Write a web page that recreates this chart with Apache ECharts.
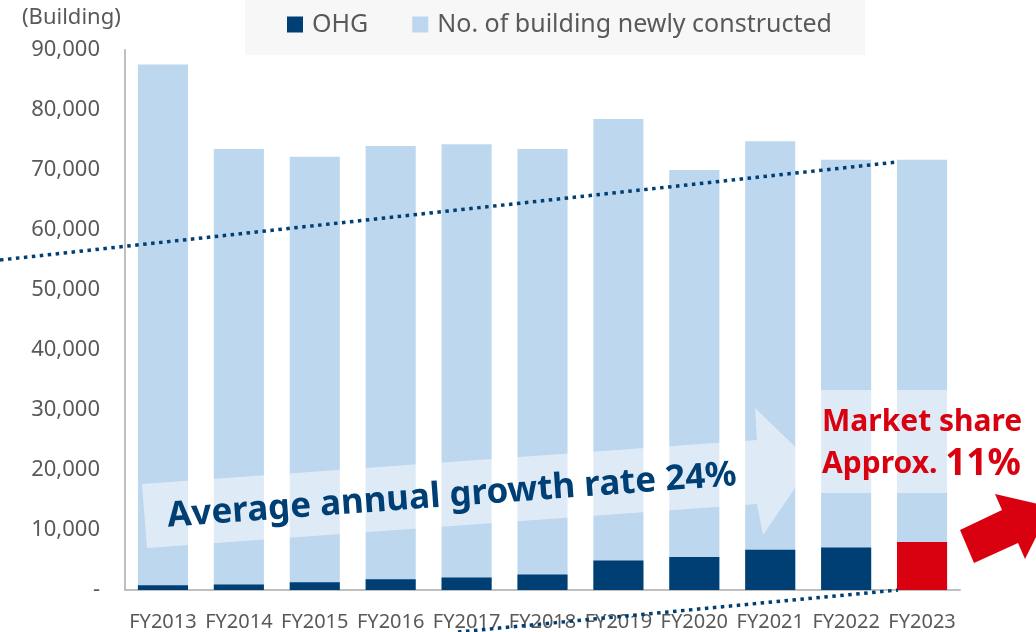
<!DOCTYPE html>
<html>
<head>
<meta charset="utf-8">
<script src="https://cdn.jsdelivr.net/npm/echarts@6/dist/echarts.min.js"></script>
<style>
  html, body { margin: 0; padding: 0; background: #fff; }
  #chart { width: 1036px; height: 632px; }
</style>
</head>
<body>
<div id="chart"></div>
<script>
    // values
    const years = ['FY2013', 'FY2014', 'FY2015', 'FY2016', 'FY2017', 'FY2018', 'FY2019', 'FY2020', 'FY2021', 'FY2022', 'FY2023'];
    const newlyBuilt = [87600, 73500, 72200, 74000, 74300, 73500, 78500, 70000, 74800, 71700, 71700];
    const ohg = [800, 900, 1300, 1800, 2100, 2600, 4900, 5500, 6700, 7100, 8000];
    const yTicks = [0, 10000, 20000, 30000, 40000, 50000, 60000, 70000, 80000, 90000];

    const dark = '#003F74';
    const light = '#BDD7EE';
    const red = '#D9000F';
    const grey = '#595959';
    const font = '"Noto Sans", sans-serif';

    let ohgData = ohg.map((v, i) => i === ohg.length - 1 ? {value: v, itemStyle: {color: red}} : v);

    let chart = echarts.init(document.getElementById('chart'));
    chart.setOption({
        animation: false,
        textStyle: {fontFamily: font},
        grid: {left: 125, right: 76, top: 50, bottom: 42, containLabel: false},
        legend: {
            data: ['OHG', 'No. of building newly constructed'],
            left: 245, top: 0,
            backgroundColor: '#F7F7F7',
            padding: [12, 33, 18, 42],
            itemWidth: 16, itemHeight: 16, itemGap: 44,
            icon: 'rect',
            textStyle: {fontSize: 25, color: grey, fontFamily: font, padding: [0, 0, 0, 4], lineHeight: 16}
        },
        xAxis: {
            type: 'category',
            data: years,
            axisLine: {lineStyle: {color: '#BFBFBF', width: 2}},
            axisTick: {show: false},
            axisLabel: {interval: 0, fontSize: 20, color: grey, margin: 22, fontFamily: font}
        },
        yAxis: {
            type: 'value',
            min: yTicks[0], max: yTicks[yTicks.length - 1], interval: 10000,
            axisLine: {show: true, lineStyle: {color: '#BFBFBF', width: 2}},
            axisTick: {show: false},
            splitLine: {show: false},
            axisLabel: {
                fontSize: 22, color: grey, margin: 25, fontFamily: font,
                formatter: v => v === 0 ? '-' : v.toLocaleString('en-US')
            }
        },
        series: [
            {
                name: 'No. of building newly constructed',
                type: 'bar',
                data: newlyBuilt,
                barWidth: '66%',
                itemStyle: {color: light}
            },
            {
                name: 'OHG',
                type: 'bar',
                data: ohgData,
                barWidth: '66%',
                barGap: '-100%',
                itemStyle: {color: dark}
            }
        ],
        graphic: [
            {type: 'text', left: 22, top: 7, style: {text: '(Building)', fontSize: 22, fill: grey, fontFamily: font}},
            // trend lines
            {type: 'line', z: 100, shape: {x1: 0, y1: 260, x2: 897, y2: 162},
                style: {stroke: dark, lineWidth: 3.5, lineDash: [3.5, 4.5]}},
            {type: 'line', z: 100, shape: {x1: 458, y1: 632, x2: 898, y2: 590},
                style: {stroke: dark, lineWidth: 3.5, lineDash: [3.5, 4.5]}},
            // growth arrow
            {type: 'polygon', z: 90, shape: {points: [[142, 484], [757, 440], [755, 408], [812, 463], [763, 535], [757, 504], [147, 548]]},
                style: {fill: 'rgba(255,255,255,0.5)'}},
            {type: 'text', z: 95, x: 452, y: 496, rotation: 0.073,
                style: {text: 'Average annual growth rate 24%', fontSize: 35, fontWeight: 'bold', fill: dark,
                    fontFamily: font, align: 'center', verticalAlign: 'middle'}},
            // market share box
            {type: 'rect', z: 90, shape: {x: 800, y: 390, width: 230, height: 103},
                style: {fill: 'rgba(255,255,255,0.5)'}},
            {type: 'text', z: 95, x: 822, y: 443,
                style: {
                    text: '{a|Market share}\n{a|Approx. }{b|11%}',
                    fontFamily: font, verticalAlign: 'middle',
                    rich: {
                        a: {fontSize: 30, fontWeight: 'bold', fill: red, lineHeight: 42, fontFamily: font},
                        b: {fontSize: 37, fontWeight: 'bold', fill: red, lineHeight: 42, fontFamily: font}
                    }
                }},
            // red arrow
            {type: 'polygon', z: 100, shape: {points: [[960, 530], [1002, 510], [995, 494], [1051, 507], [1025, 559], [1018, 543], [974, 563]]},
                style: {fill: red}}
        ]
    });
</script>
</body>
</html>
